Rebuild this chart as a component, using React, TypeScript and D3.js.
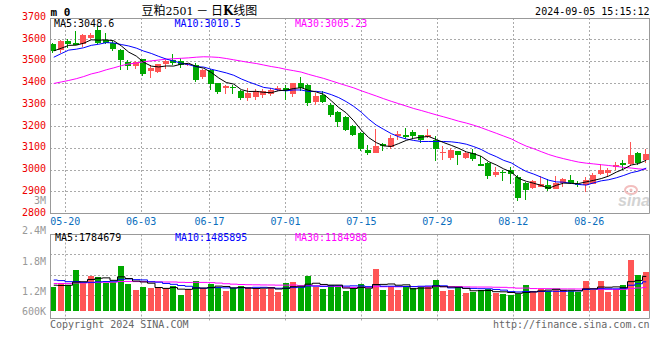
import React from 'react';
import * as d3 from 'd3';

const dates = [
  '05-16','05-17','05-20','05-21','05-22','05-23','05-24','05-27','05-28','05-29','05-30','05-31',
  '06-03','06-04','06-05','06-06','06-07','06-11','06-12','06-13','06-14',
  '06-17','06-18','06-19','06-20','06-21','06-24','06-25','06-26','06-27','06-28',
  '07-01','07-02','07-03','07-04','07-05','07-08','07-09','07-10','07-11','07-12',
  '07-15','07-16','07-17','07-18','07-19','07-22','07-23','07-24','07-25','07-26',
  '07-29','07-30','07-31','08-01','08-02','08-05','08-06','08-07','08-08','08-09',
  '08-12','08-13','08-14','08-15','08-16','08-19','08-20','08-21','08-22','08-23',
  '08-26','08-27','08-28','08-29','08-30','09-02','09-03','09-04','09-05'
];

const opens = [
  3579,3554,3594,3586,3579,3609,3643,3600,3586,3551,3496,3479,3510,3456,3451,3487,3505,3500,3485,3482,
  3428,3462,3400,3377,3382,3362,3334,3338,3346,3350,3369,3380,3350,3403,3392,3311,3346,3300,3269,3246,
  3203,3171,3091,3080,3119,3106,3155,3160,3175,3160,3150,3140,3077,3057,3086,3057,3080,3028,3033,2976,
  2991,2999,2966,2941,2918,2922,2930,2915,2941,2956,2938,2933,2938,2981,2987,3014,3034,3030,3079,3045
];
const highs = [
  3583,3600,3605,3640,3628,3632,3663,3632,3594,3555,3505,3502,3513,3482,3490,3505,3536,3517,3494,3493,
  3465,3465,3403,3390,3392,3369,3377,3374,3372,3377,3385,3392,3403,3428,3397,3354,3362,3308,3274,3250,
  3207,3175,3117,3191,3125,3160,3180,3195,3183,3163,3189,3155,3109,3100,3090,3085,3099,3063,3037,3014,
  2999,3014,2975,2945,2956,2971,2961,2971,2964,2976,2948,2968,2987,3030,3010,3037,3048,3129,3083,3099
];
const lows = [
  3540,3539,3562,3574,3565,3605,3582,3582,3546,3459,3459,3467,3431,3425,3448,3467,3485,3470,3478,3405,
  3420,3369,3351,3351,3351,3323,3320,3323,3330,3340,3362,3323,3338,3362,3295,3300,3308,3243,3197,3180,
  3155,3086,3068,3078,3086,3099,3137,3145,3141,3125,3148,3040,3045,3047,3022,3050,3042,3017,2961,2968,
  2950,2938,2858,2861,2911,2920,2904,2913,2922,2935,2922,2899,2936,2979,2973,2999,3004,3022,3024,3033
];
const closes = [
  3546,3594,3579,3577,3624,3624,3586,3586,3556,3507,3479,3496,3441,3470,3487,3502,3494,3485,3490,3413,
  3462,3397,3358,3385,3377,3334,3354,3362,3362,3369,3380,3366,3400,3380,3308,3343,3311,3254,3223,3185,
  3160,3099,3079,3109,3109,3148,3165,3152,3157,3137,3161,3096,3081,3094,3068,3080,3053,3020,2972,2993,
  2988,2981,2872,2907,2948,2938,2915,2941,2958,2941,2935,2953,2976,2999,2999,3025,3025,3068,3033,3076
];
const volumes = [
  1237000,1447000,1368000,2147000,1447000,1842000,1763000,1463000,1500000,2368000,
  1405000,1089000,1232000,1179000,1232000,1179000,1300000,826000,1126000,1563000,
  1179000,1405000,1232000,1037000,1179000,1300000,1232000,1126000,1126000,1263000,
  1000000,1442000,1526000,1232000,1826000,1232000,1126000,1353000,1232000,1053000,
  1126000,1405000,1142000,2195000,1089000,1232000,1089000,1232000,1179000,1263000,
  1232000,1616000,1053000,1089000,1232000,916000,1000000,1089000,1126000,916000,
  879000,826000,879000,1353000,1053000,1126000,1053000,1089000,1089000,1053000,
  1000000,1563000,1089000,1563000,1000000,1089000,1353000,2668000,1879000,2053000
];
// sessions before the visible window (needed for the moving averages)
const priorCloses = [
  3384,3369,3337,3324,3264,3346,3256,3286,3207,3239,3376,3261,3350,3367,3382,
  3434,3425,3430,3323,3402,3427,3418,3535,3557,3514,3534,3512,3572,3579
];
const priorVolumes = [
  1420000,1280000,1350000,1510000,1300000,1220000,1460000,1380000,1250000,1330000,
  1400000,1290000,1360000,1310000,1440000,1270000,1350000,1390000,1300000,1340000,
  1750000,1920000,2080000,1860000,1840000,1520000,1310000,1330000,1350000
];

const priceTicks = [3700, 3600, 3500, 3400, 3300, 3200, 3100, 3000, 2900, 2800];
const volTickLabels = ['2.4M', '1.8M', '1.2M', '600K'];
const volTickY = [234, 265, 294.7, 314.7];
const dateTicks = ['05-20', '06-03', '06-17', '07-01', '07-15', '07-29', '08-12', '08-26'];

const priceLegend = [
  { text: 'MA5:3048.6', color: '#000000', x: 54 },
  { text: 'MA10:3010.5', color: '#0000ff', x: 174.5 },
  { text: 'MA30:3005.23', color: '#ff00ff', x: 295 },
];
const volLegend = [
  { text: 'MA5:1784679', color: '#000000', x: 55 },
  { text: 'MA10:1485895', color: '#0000ff', x: 175 },
  { text: 'MA30:1184988', color: '#ff00ff', x: 295 },
];

const UP = '#ff5555';
const DOWN = '#00a800';
const GRID = '#aaaaaa';
const FRAME = '#999999';
const MONO = "'DejaVu Sans Mono', monospace";

function movingAvg(prior: number[], arr: number[], n: number) {
  const all = [...prior, ...arr];
  const off = prior.length;
  return arr.map((_, i) => d3.mean(all.slice(off + i - n + 1, off + i + 1)) as number);
}

export default function App() {
  React.useEffect(() => {
    document.body.style.margin = '0';
  }, []);

  const L = 50, R = 650;
  const mainTop = 18, mainBot = 213.5;
  const volTop = 234.5, volBot = 318.5, volBase = 311;

  const xBand = d3.scaleBand<string>().domain(dates).range([L, R]).padding(0);
  const xGrid = d3.scalePoint<string>().domain(dates).range([L, R]);
  const bw = xBand.bandwidth();
  const yP = d3.scaleLinear().domain([2800, 3700]).range([mainBot, mainTop]);
  const yV = d3.scaleLinear().domain([0, 4000000]).range([volBase, volTop]);

  const cx = (i: number) => (xBand(dates[i]) as number) + bw / 2;

  const ma5 = movingAvg(priorCloses, closes, 5);
  const ma10 = movingAvg(priorCloses, closes, 10);
  const ma30 = movingAvg(priorCloses, closes, 30);
  const vma5 = movingAvg(priorVolumes, volumes, 5);
  const vma10 = movingAvg(priorVolumes, volumes, 10);
  const vma30 = movingAvg(priorVolumes, volumes, 30);

  const pLine = d3.line<number>().x((_, i) => cx(i)).y((v) => yP(v));
  const vLine = d3.line<number>().x((_, i) => cx(i)).y((v) => yV(v)).curve(d3.curveStep);

  const snap = (v: number) => Math.floor(v) + 0.5;
  const volGridY = d3.range(1, 4).map((k) => volTop + k * 20.3);

  return (
    <svg width={660} height={360} style={{ position: 'absolute', left: 0, top: 0, display: 'block', background: '#fff' }}>
      <defs>
        <clipPath id="mainClip"><rect x={L + 1} y={mainTop} width={R - L - 1.5} height={mainBot - mainTop} /></clipPath>
        <clipPath id="volClip"><rect x={L + 1} y={volTop} width={R - L - 1.5} height={volBot - volTop} /></clipPath>
      </defs>
      <rect x={0} y={0} width={660} height={360} fill="#fff" />

      {/* horizontal price gridlines */}
      {priceTicks.slice(1, -1).map((t) => (
        <line key={'hg' + t} x1={L} x2={R - 0.5} y1={snap(yP(t))} y2={snap(yP(t))} stroke={GRID} strokeDasharray="2,2" />
      ))}
      {/* vertical date gridlines */}
      {dateTicks.map((d) => {
        const x = snap(xGrid(d) as number);
        return (
          <g key={'vg' + d}>
            <line x1={x} x2={x} y1={mainTop} y2={mainBot} stroke={GRID} strokeDasharray="2,2" />
            <line x1={x} x2={x} y1={volTop} y2={321} stroke={GRID} strokeDasharray="2,2" />
          </g>
        );
      })}
      {volGridY.map((y, k) => (
        <line key={'vh' + k} x1={L} x2={R - 0.5} y1={snap(y)} y2={snap(y)} stroke={GRID} strokeDasharray="2,2" />
      ))}

      {/* watermark */}
      <g opacity={0.9}>
        <ellipse cx={631} cy={190} rx={6} ry={4} fill="none" stroke="#f2b8b8" strokeWidth={2} />
        <circle cx={631} cy={190} r={1.6} fill="#f2b8b8" />
        <text x={618} y={206} fontFamily="'Liberation Sans', Arial, sans-serif" fontWeight="bold" fontStyle="italic" fontSize={16} fill="#cfcfcf">sina</text>
      </g>

      {/* candles */}
      <g clipPath="url(#mainClip)">
        {dates.map((d, i) => {
          const o = opens[i], c = closes[i], h = highs[i], l = lows[i];
          const up = c >= o;
          const col = up ? UP : DOWN;
          const x0 = Math.round(xBand(d) as number);
          const yt = Math.round(yP(Math.max(o, c)));
          const yb = Math.round(yP(Math.min(o, c)));
          return (
            <g key={'c' + d}>
              <line x1={x0 + 2.5} x2={x0 + 2.5} y1={Math.round(yP(h))} y2={Math.round(yP(l))} stroke={col} strokeWidth={1} />
              <rect x={x0} y={yt} width={6} height={Math.max(1, yb - yt)} fill={col} />
            </g>
          );
        })}
        <path d={pLine(ma30) || ''} fill="none" stroke="#ff00ff" strokeWidth={1} />
        <path d={pLine(ma10) || ''} fill="none" stroke="#0000ff" strokeWidth={1} />
        <path d={pLine(ma5) || ''} fill="none" stroke="#000000" strokeWidth={1} />
      </g>

      {/* volume bars */}
      <g clipPath="url(#volClip)">
        {dates.map((d, i) => {
          const up = closes[i] >= opens[i];
          const x0 = Math.round(xBand(d) as number);
          const yt = Math.round(yV(volumes[i]));
          return <rect key={'v' + d} x={x0} y={yt} width={6} height={volBase - yt} fill={up ? UP : DOWN} />;
        })}
        <path d={vLine(vma30) || ''} fill="none" stroke="#ff00ff" strokeWidth={1} />
        <path d={vLine(vma10) || ''} fill="none" stroke="#0000ff" strokeWidth={1} />
        <path d={vLine(vma5) || ''} fill="none" stroke="#000000" strokeWidth={1} />
      </g>

      {/* frames */}
      <line x1={L} x2={R - 0.5} y1={18.5} y2={18.5} stroke={FRAME} />
      <line x1={L} x2={R - 0.5} y1={mainBot} y2={mainBot} stroke={FRAME} strokeWidth={1} />
      <line x1={L + 0.5} x2={L + 0.5} y1={18} y2={mainBot} stroke={FRAME} />
      <line x1={R - 0.5} x2={R - 0.5} y1={18} y2={mainBot} stroke={FRAME} />
      <line x1={L} x2={R - 0.5} y1={volTop} y2={volTop} stroke={FRAME} />
      <line x1={L} x2={R - 0.5} y1={volBot} y2={volBot} stroke={FRAME} />
      <line x1={L + 0.5} x2={L + 0.5} y1={volTop} y2={volBot} stroke={FRAME} />
      <line x1={R - 0.5} x2={R - 0.5} y1={volTop} y2={volBot} stroke={FRAME} />

      {/* price axis labels */}
      <g fontFamily={MONO} fontSize={10} fill="#ee0000" textAnchor="end">
        {priceTicks.map((t) => (
          <text key={'pl' + t} x={46} y={yP(t) + 2}>{t}</text>
        ))}
      </g>
      <text x={46} y={203.8} fontFamily={MONO} fontSize={10} fill="#999" textAnchor="end">3M</text>

      {/* volume axis labels */}
      <g fontFamily={MONO} fontSize={10} fill="#999" textAnchor="end">
        {volTickLabels.map((t, k) => (
          <text key={'vl' + t} x={46} y={volTickY[k]}>{t}</text>
        ))}
      </g>

      {/* date labels */}
      <g fontFamily={MONO} fontSize={10} fill="#0a6ebd" textAnchor="middle">
        {dateTicks.map((d) => (
          <text key={'dl' + d} x={xGrid(d) as number} y={225.3}>{d}</text>
        ))}
      </g>

      {/* legends */}
      <g fontFamily={MONO} fontSize={10}>
        {priceLegend.map((lg) => (
          <text key={lg.text} x={lg.x} y={27} fill={lg.color}>{lg.text}</text>
        ))}
        {volLegend.map((lg) => (
          <text key={lg.text} x={lg.x} y={241.3} fill={lg.color}>{lg.text}</text>
        ))}
      </g>

      {/* header */}
      <text x={50.5} y={15.5} fontFamily={MONO} fontSize={11} fontWeight="bold" fill="#000">m 0</text>
      <text x={141.5} y={14.5} fontFamily="'Noto Sans CJK SC', sans-serif" fontSize={12} fill="#000">
        豆粕<tspan fontFamily="'DejaVu Serif', serif" fontSize={11}>2501</tspan> － 日<tspan fontFamily="'DejaVu Serif', serif" fontWeight="bold">K</tspan>线图
      </text>
      <text x={649.5} y={15.3} fontFamily={MONO} fontSize={10} fill="#000" textAnchor="end">2024-09-05 15:15:12</text>

      {/* footer */}
      <text x={50} y={327.5} fontFamily={MONO} fontSize={10} fill="#666">Copyright 2024 SINA.COM</text>
      <text x={649.5} y={327.5} fontFamily={MONO} fontSize={10} fill="#666" textAnchor="end">http://finance.sina.com.cn</text>
    </svg>
  );
}
